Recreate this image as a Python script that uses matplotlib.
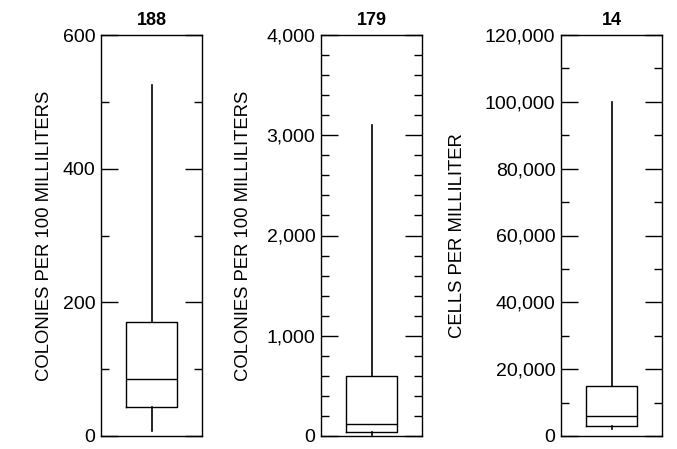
import matplotlib
matplotlib.use("Agg")
import matplotlib.pyplot as plt
from matplotlib.ticker import MultipleLocator, FuncFormatter

plt.rcParams['font.family'] = ['Liberation Sans', 'DejaVu Sans']

titles = ["188", "179", "14"]
ylabels = ["COLONIES PER 100 MILLILITERS", "COLONIES PER 100 MILLILITERS", "CELLS PER MILLILITER"]
whislo = [7, 10, 2000]
q1 = [44, 40, 3000]
med = [85, 120, 6000]
q3 = [170, 600, 15000]
whishi = [525, 3100, 100000]
ymax = [600, 4000, 120000]
major_step = [200, 1000, 20000]
minor_step = [100, 200, 10000]

fig = plt.figure(figsize=(6.77, 4.49), dpi=100)
W, H = 677, 449
lefts = [101, 321, 561]
axw = 101
top, bottom = 35, 436
label_x = [45, 243, 458]

for i in range(3):
    ax = fig.add_axes([lefts[i] / W, 1 - bottom / H, axw / W, (bottom - top) / H])
    stats = [dict(whislo=whislo[i], q1=q1[i], med=med[i], q3=q3[i], whishi=whishi[i], fliers=[])]
    ax.bxp(stats, positions=[1], widths=0.5, showcaps=False, showfliers=False,
           boxprops=dict(color='black', linewidth=1.0),
           medianprops=dict(color='black', linewidth=1.0),
           whiskerprops=dict(color='black', linewidth=1.2))
    ax.set_xlim(0.5, 1.5)
    ax.set_ylim(0, ymax[i])
    ax.set_xticks([])
    ax.yaxis.set_major_locator(MultipleLocator(major_step[i]))
    ax.yaxis.set_minor_locator(MultipleLocator(minor_step[i]))
    ax.yaxis.set_major_formatter(FuncFormatter(lambda v, p: f"{int(v):,}"))
    ax.tick_params(axis='y', which='major', direction='in', length=12, width=1.0,
                   left=True, right=True, labelsize=14, pad=4)
    ax.tick_params(axis='y', which='minor', direction='in', length=6, width=1.0,
                   left=True, right=True)
    for s in ax.spines.values():
        s.set_linewidth(1.0)
    ax.set_title(titles[i], fontsize=13, fontweight='bold', pad=7)
    fig.text(label_x[i] / W, 1 - (top + bottom) / 2 / H, ylabels[i], rotation=90,
             ha='center', va='center', fontsize=13.3)

fig.savefig("out.png", dpi=100)
